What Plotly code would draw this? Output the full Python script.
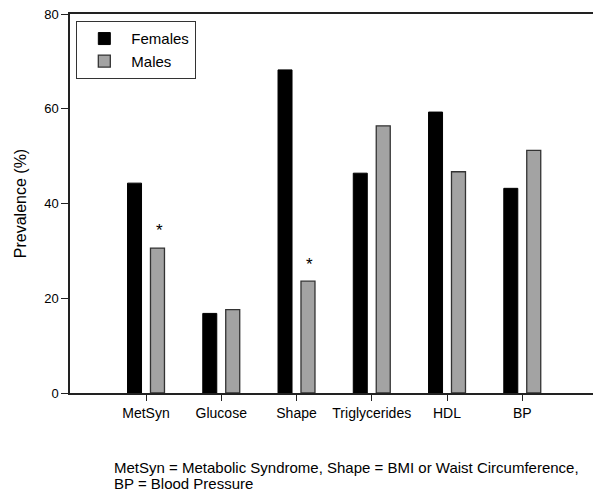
import plotly.graph_objects as go

categories = ["MetSyn", "Glucose", "Shape", "Triglycerides", "HDL", "BP"]
females = [44.3, 16.8, 68.2, 46.4, 59.3, 43.2]
males = [30.6, 17.6, 23.6, 56.4, 46.7, 51.2]
sig_labels = ["*", "", "*", "", "", ""]
y_ticks = [0, 20, 40, 60, 80]
caption_lines = ["MetSyn = Metabolic Syndrome, Shape = BMI or Waist Circumference,",
                 "BP = Blood Pressure"]

FONT = "Liberation Sans, Arial, sans-serif"
xpos = list(range(len(categories)))

fig = go.Figure()
fig.add_trace(go.Bar(x=xpos, y=females, name="Females",
                     marker=dict(color="black", line=dict(color="black", width=1))))
fig.add_trace(go.Bar(x=xpos, y=males, name="Males",
                     marker=dict(color="#a3a3a3", line=dict(color="#333333", width=1.3))))

for i, s in enumerate(sig_labels):
    if s:
        fig.add_annotation(x=i, y=males[i] + 1.2, text=s, showarrow=False,
                           xshift=13, yanchor="bottom",
                           font=dict(family=FONT, size=17, color="black"))

for k, line in enumerate(caption_lines):
    fig.add_annotation(xref="paper", yref="paper", x=(112 - 70) / 523,
                       y=-0.1954 - k * 0.0423,
                       xanchor="left", yanchor="middle", align="left", showarrow=False,
                       text=line, font=dict(family=FONT, size=15, color="black"))

fig.update_layout(
    width=593, height=492,
    margin=dict(l=70, r=0, t=14, b=99),
    paper_bgcolor="white", plot_bgcolor="white",
    barmode="group", bargap=0.39, bargroupgap=0.39,
    font=dict(family=FONT, size=13, color="black"),
    showlegend=True,
    legend=dict(x=0.0115, y=0.9815, xanchor="left", yanchor="top",
                bordercolor="#333333", borderwidth=1.3, bgcolor="white",
                font=dict(family=FONT, size=15), itemwidth=44,
                tracegroupgap=0),
    xaxis=dict(range=[-1.01, 5.94], tickvals=xpos, ticktext=categories,
               showline=True, linecolor="#222222", linewidth=1.5, mirror=True,
               ticks="outside", ticklen=6, tickcolor="#222222",
               showgrid=False, zeroline=False, tickfont=dict(size=14)),
    yaxis=dict(range=[0, 80], tickvals=y_ticks,
               showline=True, linecolor="#222222", linewidth=1.5,
               ticks="outside", ticklen=7, tickcolor="#222222",
               showgrid=False, zeroline=False, tickfont=dict(size=13),
               title=dict(text="Prevalence (%)", font=dict(size=16), standoff=14)),
)

fig.write_html("out.html", config={"displayModeBar": False},
               post_script="document.body.style.margin='0';document.body.style.overflow='hidden';")
